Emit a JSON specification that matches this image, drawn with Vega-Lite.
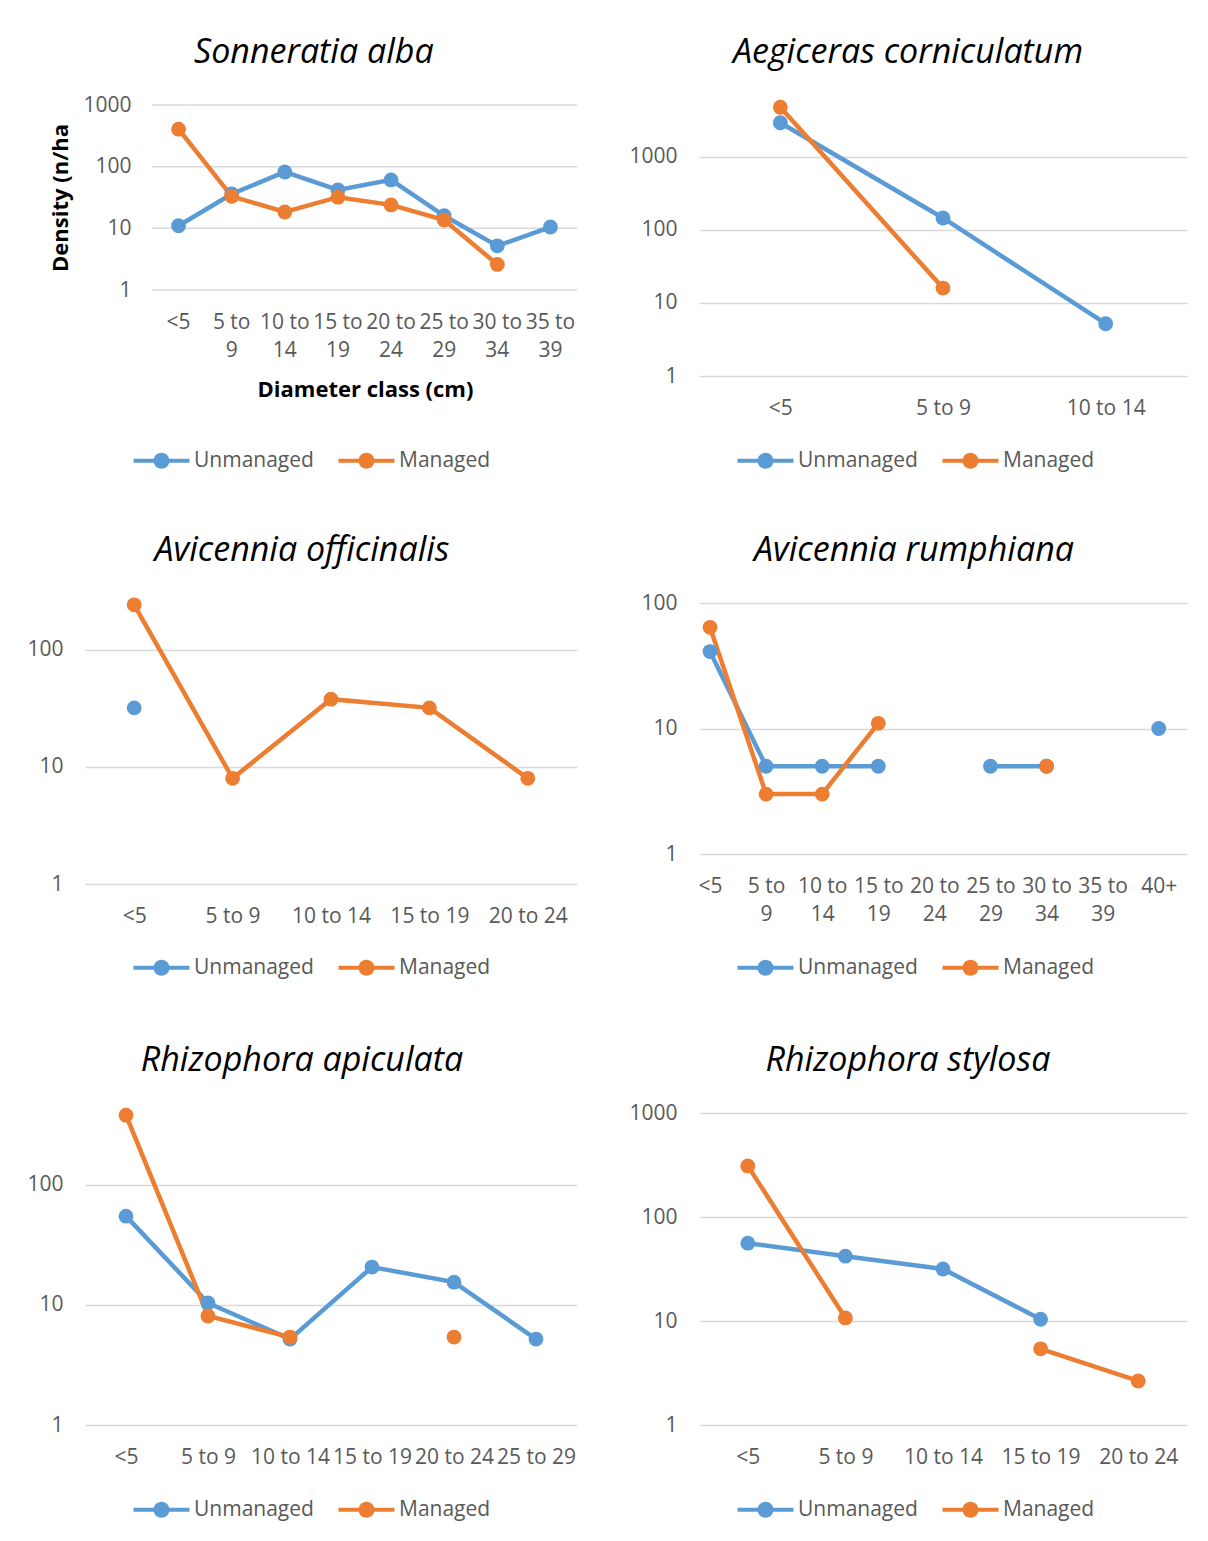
{
  "$schema": "https://vega.github.io/schema/vega-lite/v6.json",
  "background": "white",
  "padding": {"left": 26, "top": 36, "right": 8, "bottom": 20},
  "datasets": {
    "d": [
      {"sp": "Sonneratia alba", "cls": "<5", "s": "Unmanaged", "v": 11},
      {"sp": "Sonneratia alba", "cls": "5 to 9", "s": "Unmanaged", "v": 36},
      {"sp": "Sonneratia alba", "cls": "10 to 14", "s": "Unmanaged", "v": 82},
      {"sp": "Sonneratia alba", "cls": "15 to 19", "s": "Unmanaged", "v": 42},
      {"sp": "Sonneratia alba", "cls": "20 to 24", "s": "Unmanaged", "v": 61},
      {"sp": "Sonneratia alba", "cls": "25 to 29", "s": "Unmanaged", "v": 16},
      {"sp": "Sonneratia alba", "cls": "30 to 34", "s": "Unmanaged", "v": 5.2},
      {"sp": "Sonneratia alba", "cls": "35 to 39", "s": "Unmanaged", "v": 10.5},
      {"sp": "Sonneratia alba", "cls": "<5", "s": "Managed", "v": 406},
      {"sp": "Sonneratia alba", "cls": "5 to 9", "s": "Managed", "v": 33},
      {"sp": "Sonneratia alba", "cls": "10 to 14", "s": "Managed", "v": 18.4},
      {"sp": "Sonneratia alba", "cls": "15 to 19", "s": "Managed", "v": 32},
      {"sp": "Sonneratia alba", "cls": "20 to 24", "s": "Managed", "v": 24},
      {"sp": "Sonneratia alba", "cls": "25 to 29", "s": "Managed", "v": 13.6},
      {"sp": "Sonneratia alba", "cls": "30 to 34", "s": "Managed", "v": 2.6},
      {"sp": "Sonneratia alba", "cls": "35 to 39", "s": "Managed", "v": null},

      {"sp": "Aegiceras corniculatum", "cls": "<5", "s": "Unmanaged", "v": 2940},
      {"sp": "Aegiceras corniculatum", "cls": "5 to 9", "s": "Unmanaged", "v": 146},
      {"sp": "Aegiceras corniculatum", "cls": "10 to 14", "s": "Unmanaged", "v": 5.2},
      {"sp": "Aegiceras corniculatum", "cls": "<5", "s": "Managed", "v": 4800},
      {"sp": "Aegiceras corniculatum", "cls": "5 to 9", "s": "Managed", "v": 16},
      {"sp": "Aegiceras corniculatum", "cls": "10 to 14", "s": "Managed", "v": null},

      {"sp": "Avicennia officinalis", "cls": "<5", "s": "Unmanaged", "v": 32},
      {"sp": "Avicennia officinalis", "cls": "5 to 9", "s": "Unmanaged", "v": null},
      {"sp": "Avicennia officinalis", "cls": "10 to 14", "s": "Unmanaged", "v": null},
      {"sp": "Avicennia officinalis", "cls": "15 to 19", "s": "Unmanaged", "v": null},
      {"sp": "Avicennia officinalis", "cls": "20 to 24", "s": "Unmanaged", "v": null},
      {"sp": "Avicennia officinalis", "cls": "<5", "s": "Managed", "v": 243},
      {"sp": "Avicennia officinalis", "cls": "5 to 9", "s": "Managed", "v": 8},
      {"sp": "Avicennia officinalis", "cls": "10 to 14", "s": "Managed", "v": 38},
      {"sp": "Avicennia officinalis", "cls": "15 to 19", "s": "Managed", "v": 32},
      {"sp": "Avicennia officinalis", "cls": "20 to 24", "s": "Managed", "v": 8},

      {"sp": "Avicennia rumphiana", "cls": "<5", "s": "Unmanaged", "v": 41},
      {"sp": "Avicennia rumphiana", "cls": "5 to 9", "s": "Unmanaged", "v": 5},
      {"sp": "Avicennia rumphiana", "cls": "10 to 14", "s": "Unmanaged", "v": 5},
      {"sp": "Avicennia rumphiana", "cls": "15 to 19", "s": "Unmanaged", "v": 5},
      {"sp": "Avicennia rumphiana", "cls": "20 to 24", "s": "Unmanaged", "v": null},
      {"sp": "Avicennia rumphiana", "cls": "25 to 29", "s": "Unmanaged", "v": 5},
      {"sp": "Avicennia rumphiana", "cls": "30 to 34", "s": "Unmanaged", "v": 5},
      {"sp": "Avicennia rumphiana", "cls": "35 to 39", "s": "Unmanaged", "v": null},
      {"sp": "Avicennia rumphiana", "cls": "40+", "s": "Unmanaged", "v": 10},
      {"sp": "Avicennia rumphiana", "cls": "<5", "s": "Managed", "v": 64},
      {"sp": "Avicennia rumphiana", "cls": "5 to 9", "s": "Managed", "v": 3},
      {"sp": "Avicennia rumphiana", "cls": "10 to 14", "s": "Managed", "v": 3},
      {"sp": "Avicennia rumphiana", "cls": "15 to 19", "s": "Managed", "v": 11},
      {"sp": "Avicennia rumphiana", "cls": "20 to 24", "s": "Managed", "v": null},
      {"sp": "Avicennia rumphiana", "cls": "25 to 29", "s": "Managed", "v": null},
      {"sp": "Avicennia rumphiana", "cls": "30 to 34", "s": "Managed", "v": 5},
      {"sp": "Avicennia rumphiana", "cls": "35 to 39", "s": "Managed", "v": null},
      {"sp": "Avicennia rumphiana", "cls": "40+", "s": "Managed", "v": null},

      {"sp": "Rhizophora apiculata", "cls": "<5", "s": "Unmanaged", "v": 55},
      {"sp": "Rhizophora apiculata", "cls": "5 to 9", "s": "Unmanaged", "v": 10.4},
      {"sp": "Rhizophora apiculata", "cls": "10 to 14", "s": "Unmanaged", "v": 5.2},
      {"sp": "Rhizophora apiculata", "cls": "15 to 19", "s": "Unmanaged", "v": 20.7},
      {"sp": "Rhizophora apiculata", "cls": "20 to 24", "s": "Unmanaged", "v": 15.5},
      {"sp": "Rhizophora apiculata", "cls": "25 to 29", "s": "Unmanaged", "v": 5.2},
      {"sp": "Rhizophora apiculata", "cls": "<5", "s": "Managed", "v": 382},
      {"sp": "Rhizophora apiculata", "cls": "5 to 9", "s": "Managed", "v": 8.1},
      {"sp": "Rhizophora apiculata", "cls": "10 to 14", "s": "Managed", "v": 5.4},
      {"sp": "Rhizophora apiculata", "cls": "15 to 19", "s": "Managed", "v": null},
      {"sp": "Rhizophora apiculata", "cls": "20 to 24", "s": "Managed", "v": 5.4},
      {"sp": "Rhizophora apiculata", "cls": "25 to 29", "s": "Managed", "v": null},

      {"sp": "Rhizophora stylosa", "cls": "<5", "s": "Unmanaged", "v": 56},
      {"sp": "Rhizophora stylosa", "cls": "5 to 9", "s": "Unmanaged", "v": 42},
      {"sp": "Rhizophora stylosa", "cls": "10 to 14", "s": "Unmanaged", "v": 31.6},
      {"sp": "Rhizophora stylosa", "cls": "15 to 19", "s": "Unmanaged", "v": 10.4},
      {"sp": "Rhizophora stylosa", "cls": "20 to 24", "s": "Unmanaged", "v": null},
      {"sp": "Rhizophora stylosa", "cls": "<5", "s": "Managed", "v": 310},
      {"sp": "Rhizophora stylosa", "cls": "5 to 9", "s": "Managed", "v": 10.7},
      {"sp": "Rhizophora stylosa", "cls": "10 to 14", "s": "Managed", "v": null},
      {"sp": "Rhizophora stylosa", "cls": "15 to 19", "s": "Managed", "v": 5.4},
      {"sp": "Rhizophora stylosa", "cls": "20 to 24", "s": "Managed", "v": 2.65}
    ]
  },
  "columns": 2,
  "align": "each",
  "spacing": {"row": 62, "column": 50},
  "resolve": {
    "scale": {"x": "independent", "y": "independent", "color": "independent"},
    "legend": {"color": "independent"}
  },
  "concat": [
    {
      "width": 492, "height": 185,
      "title": {"text": "Sonneratia alba"},
      "layer": [
        {
          "data": {"values": [{"g": 1}, {"g": 10}, {"g": 100}, {"g": 1000}]},
          "mark": {"type": "rule", "color": "#d9d9d9", "strokeWidth": 1.5},
          "encoding": {
            "x": {"datum": "<5", "type": "nominal", "bandPosition": 0,
                  "scale": {"type": "band", "domain": ["<5", "5 to 9", "10 to 14", "15 to 19", "20 to 24", "25 to 29", "30 to 34", "35 to 39"], "paddingInner": 0, "paddingOuter": 0.6306, "align": 1},
                  "axis": {"title": "Diameter class (cm)", "titleX": 280, "titlePadding": 19, "grid": false, "bandPosition": 0.5, "labelLineHeight": 28, "labelExpr": "split(replace(datum.label, ' to ', ' to|'), '|')"}},
            "x2": {"datum": "35 to 39", "bandPosition": 1},
            "y": {"field": "g", "type": "quantitative",
                  "scale": {"type": "log", "domain": [1, 1000], "nice": false},
                  "axis": {"values": [1, 10, 100, 1000], "format": "d", "grid": false, "offset": -68, "title": "Density (n/ha", "titlePadding": 10}}
          }
        },
        {
          "data": {"name": "d"},
          "transform": [{"filter": "datum.sp == 'Sonneratia alba'"}],
          "mark": {"type": "line", "strokeWidth": 4.5, "invalid": "break-paths-show-domains"},
          "encoding": {
            "x": {"field": "cls", "type": "nominal", "bandPosition": 0.5},
            "y": {"field": "v", "type": "quantitative"},
            "color": {"field": "s", "type": "nominal", "scale": {"domain": ["Unmanaged", "Managed"], "range": ["#5b9bd5", "#ed7d31"]},
                      "legend": {"title": null, "legendX": 48, "legendY": 345, "symbolType": "M-2.8,-0.2L2.8,-0.2L2.8,0.2L-2.8,0.2ZM0.8,0A0.8,0.8,0,1,1,-0.8,0A0.8,0.8,0,1,1,0.8,0Z",
                                 "encode": {"symbols": {"update": {"fill": {"signal": "datum.value == 'Unmanaged' ? '#5b9bd5' : '#ed7d31'"}, "stroke": {"value": "transparent"}, "opacity": {"value": 1}}}}}}
          }
        },
        {
          "data": {"name": "d"},
          "transform": [{"filter": "datum.sp == 'Sonneratia alba'"}],
          "mark": {"type": "point", "filled": true, "opacity": 1, "size": 220, "invalid": "filter"},
          "encoding": {
            "x": {"field": "cls", "type": "nominal", "bandPosition": 0.5},
            "y": {"field": "v", "type": "quantitative"},
            "color": {"field": "s", "type": "nominal", "scale": {"domain": ["Unmanaged", "Managed"], "range": ["#5b9bd5", "#ed7d31"]},
                      "legend": {"title": null, "legendX": 48, "legendY": 345, "symbolType": "M-2.8,-0.2L2.8,-0.2L2.8,0.2L-2.8,0.2ZM0.8,0A0.8,0.8,0,1,1,-0.8,0A0.8,0.8,0,1,1,0.8,0Z",
                                 "encode": {"symbols": {"update": {"fill": {"signal": "datum.value == 'Unmanaged' ? '#5b9bd5' : '#ed7d31'"}, "stroke": {"value": "transparent"}, "opacity": {"value": 1}}}}}}
          }
        }
      ]
    },
    {
      "width": 488, "height": 271,
      "title": {"text": "Aegiceras corniculatum", "offset": 28},
      "data": {"name": "d"},
      "transform": [{"filter": "datum.sp == 'Aegiceras corniculatum'"}],
      "encoding": {
        "x": {"field": "cls", "type": "nominal", "scale": {"type": "point", "domain": ["<5", "5 to 9", "10 to 14"], "padding": 0.5}, "axis": {"title": null}},
        "y": {"field": "v", "type": "quantitative", "scale": {"type": "log", "domain": [1, 5150], "nice": false}, "axis": {"values": [1, 10, 100, 1000], "format": "d", "title": null}},
        "color": {"field": "s", "type": "nominal", "scale": {"domain": ["Unmanaged", "Managed"], "range": ["#5b9bd5", "#ed7d31"]},
                  "legend": {"title": null, "legendX": 38, "legendY": 345, "symbolType": "M-2.8,-0.2L2.8,-0.2L2.8,0.2L-2.8,0.2ZM0.8,0A0.8,0.8,0,1,1,-0.8,0A0.8,0.8,0,1,1,0.8,0Z",
                             "encode": {"symbols": {"update": {"fill": {"signal": "datum.value == 'Unmanaged' ? '#5b9bd5' : '#ed7d31'"}, "stroke": {"value": "transparent"}, "opacity": {"value": 1}}}}}}
      },
      "layer": [
        {"mark": {"type": "line", "strokeWidth": 4.5, "invalid": "break-paths-show-domains"}},
        {"mark": {"type": "point", "filled": true, "opacity": 1, "size": 220, "invalid": "filter"}}
      ]
    },
    {
      "width": 492, "height": 281,
      "title": {"text": "Avicennia officinalis", "offset": 28},
      "data": {"name": "d"},
      "transform": [{"filter": "datum.sp == 'Avicennia officinalis'"}],
      "encoding": {
        "x": {"field": "cls", "type": "nominal", "scale": {"type": "point", "domain": ["<5", "5 to 9", "10 to 14", "15 to 19", "20 to 24"], "padding": 0.5}, "axis": {"title": null}},
        "y": {"field": "v", "type": "quantitative", "scale": {"type": "log", "domain": [1, 252], "nice": false}, "axis": {"values": [1, 10, 100], "format": "d", "title": null}},
        "color": {"field": "s", "type": "nominal", "scale": {"domain": ["Unmanaged", "Managed"], "range": ["#5b9bd5", "#ed7d31"]},
                  "legend": {"title": null, "legendX": 44, "legendY": 350, "padding": 4, "symbolType": "M-2.8,-0.2L2.8,-0.2L2.8,0.2L-2.8,0.2ZM0.8,0A0.8,0.8,0,1,1,-0.8,0A0.8,0.8,0,1,1,0.8,0Z",
                             "encode": {"symbols": {"update": {"fill": {"signal": "datum.value == 'Unmanaged' ? '#5b9bd5' : '#ed7d31'"}, "stroke": {"value": "transparent"}, "opacity": {"value": 1}}}}}}
      },
      "layer": [
        {"mark": {"type": "line", "strokeWidth": 4.5, "invalid": "break-paths-show-domains"}},
        {"mark": {"type": "point", "filled": true, "opacity": 1, "size": 220, "invalid": "filter"}}
      ]
    },
    {
      "width": 488, "height": 251,
      "title": {"text": "Avicennia rumphiana"},
      "data": {"name": "d"},
      "transform": [{"filter": "datum.sp == 'Avicennia rumphiana'"}],
      "encoding": {
        "x": {"field": "cls", "type": "nominal", "scale": {"type": "point", "domain": ["<5", "5 to 9", "10 to 14", "15 to 19", "20 to 24", "25 to 29", "30 to 34", "35 to 39", "40+"], "padding": 0.35, "align": 0.28}, "axis": {"title": null, "labelLineHeight": 28, "labelExpr": "split(replace(datum.label, ' to ', ' to|'), '|')"}},
        "y": {"field": "v", "type": "quantitative", "scale": {"type": "log", "domain": [1, 100], "nice": false}, "axis": {"values": [1, 10, 100], "format": "d", "title": null}},
        "color": {"field": "s", "type": "nominal", "scale": {"domain": ["Unmanaged", "Managed"], "range": ["#5b9bd5", "#ed7d31"]},
                  "legend": {"title": null, "legendX": 34, "legendY": 350, "padding": 4, "symbolType": "M-2.8,-0.2L2.8,-0.2L2.8,0.2L-2.8,0.2ZM0.8,0A0.8,0.8,0,1,1,-0.8,0A0.8,0.8,0,1,1,0.8,0Z",
                             "encode": {"symbols": {"update": {"fill": {"signal": "datum.value == 'Unmanaged' ? '#5b9bd5' : '#ed7d31'"}, "stroke": {"value": "transparent"}, "opacity": {"value": 1}}}}}}
      },
      "layer": [
        {"mark": {"type": "line", "strokeWidth": 4.5, "invalid": "break-paths-show-domains"}},
        {"mark": {"type": "point", "filled": true, "opacity": 1, "size": 220, "invalid": "filter"}}
      ]
    },
    {
      "width": 492, "height": 312,
      "title": {"text": "Rhizophora apiculata", "offset": 28},
      "data": {"name": "d"},
      "transform": [{"filter": "datum.sp == 'Rhizophora apiculata'"}],
      "encoding": {
        "x": {"field": "cls", "type": "nominal", "scale": {"type": "point", "domain": ["<5", "5 to 9", "10 to 14", "15 to 19", "20 to 24", "25 to 29"], "padding": 0.5}, "axis": {"title": null}},
        "y": {"field": "v", "type": "quantitative", "scale": {"type": "log", "domain": [1, 398], "nice": false}, "axis": {"values": [1, 10, 100], "format": "d", "title": null}},
        "color": {"field": "s", "type": "nominal", "scale": {"domain": ["Unmanaged", "Managed"], "range": ["#5b9bd5", "#ed7d31"]},
                  "legend": {"title": null, "legendX": 48, "legendY": 386, "symbolType": "M-2.8,-0.2L2.8,-0.2L2.8,0.2L-2.8,0.2ZM0.8,0A0.8,0.8,0,1,1,-0.8,0A0.8,0.8,0,1,1,0.8,0Z",
                             "encode": {"symbols": {"update": {"fill": {"signal": "datum.value == 'Unmanaged' ? '#5b9bd5' : '#ed7d31'"}, "stroke": {"value": "transparent"}, "opacity": {"value": 1}}}}}}
      },
      "layer": [
        {"mark": {"type": "line", "strokeWidth": 4.5, "invalid": "break-paths-show-domains"}},
        {"mark": {"type": "point", "filled": true, "opacity": 1, "size": 220, "invalid": "filter"}}
      ]
    },
    {
      "width": 488, "height": 312,
      "title": {"text": "Rhizophora stylosa"},
      "data": {"name": "d"},
      "transform": [{"filter": "datum.sp == 'Rhizophora stylosa'"}],
      "encoding": {
        "x": {"field": "cls", "type": "nominal", "scale": {"type": "point", "domain": ["<5", "5 to 9", "10 to 14", "15 to 19", "20 to 24"], "padding": 0.5}, "axis": {"title": null}},
        "y": {"field": "v", "type": "quantitative", "scale": {"type": "log", "domain": [1, 1000], "nice": false}, "axis": {"values": [1, 10, 100, 1000], "format": "d", "title": null}},
        "color": {"field": "s", "type": "nominal", "scale": {"domain": ["Unmanaged", "Managed"], "range": ["#5b9bd5", "#ed7d31"]},
                  "legend": {"title": null, "legendX": 38, "legendY": 386, "symbolType": "M-2.8,-0.2L2.8,-0.2L2.8,0.2L-2.8,0.2ZM0.8,0A0.8,0.8,0,1,1,-0.8,0A0.8,0.8,0,1,1,0.8,0Z",
                             "encode": {"symbols": {"update": {"fill": {"signal": "datum.value == 'Unmanaged' ? '#5b9bd5' : '#ed7d31'"}, "stroke": {"value": "transparent"}, "opacity": {"value": 1}}}}}}
      },
      "layer": [
        {"mark": {"type": "line", "strokeWidth": 4.5, "invalid": "break-paths-show-domains"}},
        {"mark": {"type": "point", "filled": true, "opacity": 1, "size": 220, "invalid": "filter"}}
      ]
    }
  ],
  "config": {
    "view": {"stroke": null},
    "font": "Open Sans",
    "title": {"font": "Open Sans", "fontSize": 34, "fontStyle": "italic", "fontWeight": "normal", "color": "#000000", "anchor": "middle", "frame": "bounds", "offset": 24},
    "axis": {"labelFont": "Open Sans", "labelFontSize": 21, "labelColor": "#595959", "titleFont": "Open Sans", "titleFontSize": 22, "titleFontWeight": "bold", "titleColor": "#000000", "domain": false, "ticks": false, "tickSize": 0, "gridColor": "#d9d9d9", "gridWidth": 1.5},
    "axisY": {"labelPadding": 22},
    "axisX": {"labelPadding": 21, "labelAngle": 0, "grid": false},
    "legend": {"orient": "none", "direction": "horizontal", "labelFont": "Open Sans", "labelFontSize": 21, "labelColor": "#595959", "symbolSize": 400, "symbolStrokeWidth": 0, "symbolOpacity": 1, "symbolOffset": 18, "labelOffset": 22, "columnPadding": 24, "padding": 0}
  }
}
